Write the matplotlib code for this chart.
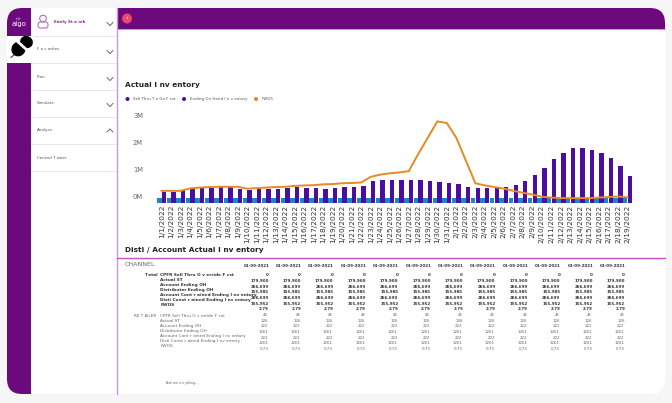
"""
Actual Inventory dashboard screenshot: side menu, chart and table.
"""

import matplotlib
matplotlib.use("Agg")
import matplotlib.pyplot as plt
from matplotlib.patches import FancyBboxPatch, Rectangle, Circle, Ellipse
from matplotlib.transforms import ScaledTranslation

# Data
dates = [f"1/{d}/2022" for d in range(1, 32)] + [f"2/{d}/2022" for d in range(1, 20)]
sell_thru = [0.17] * 50
ending_on_hand = [
    0.40, 0.40, 0.47, 0.50, 0.53, 0.56, 0.57, 0.57, 0.52, 0.48,
    0.52, 0.49, 0.49, 0.54, 0.59, 0.54, 0.54, 0.49, 0.54, 0.57,
    0.57, 0.62, 0.81, 0.83, 0.84, 0.84, 0.84, 0.83, 0.80, 0.77,
    0.73, 0.68, 0.59, 0.54, 0.53, 0.53, 0.58, 0.67, 0.79, 1.01,
    1.28, 1.60, 1.85, 2.01, 2.01, 1.96, 1.83, 1.64, 1.35, 0.98,
]
fwos = [
    0.44, 0.44, 0.44, 0.53, 0.56, 0.58, 0.59, 0.59, 0.59, 0.52,
    0.54, 0.56, 0.58, 0.59, 0.62, 0.64, 0.65, 0.68, 0.69, 0.72,
    0.73, 0.75, 0.96, 1.04, 1.09, 1.12, 1.17, 1.81, 2.41, 3.01,
    2.95, 2.40, 1.56, 0.72, 0.64, 0.58, 0.52, 0.44, 0.37, 0.30,
    0.22, 0.19, 0.17, 0.17, 0.17, 0.17, 0.19, 0.21, 0.23, 0.20,
]
y_ticks = [0, 1, 2, 3]
y_tick_labels = ["0M", "1M", "2M", "3M"]
legend_labels = ["Sell Thru T o Go F cst", "Ending On Hand I n v entory", "FWOS"]

menu_items = ["F a v orites", "Plan", "Simulate", "Analyze", "Central T ower"]

n_columns = 12
column_date = "01-09-2021"
row_labels = [
    "CPFR Sell Thru O v erride F cst",
    "Actual ST",
    "Account Ending OH",
    "Distributor Ending OH",
    "Account Cont r ained Ending I nv entory",
    "Disti Const r ained Ending I nv entory",
    "FWOS",
]
total_values = ["0", "179,900", "266,699", "155,985", "266,699", "155,952", "2.79"]
retailer_values = ["45", "126", "222", "1261", "222", "1261", "0.73"]

PURPLE = "#6c0a7d"
BAR_PURPLE = "#4c0e9e"
BAR_BLUE = "#1c86cc"
ORANGE = "#e48a26"
LILAC = "#c59ad4"
MAGENTA = "#c850c0"

W, H = 672, 403
fig = plt.figure(figsize=(W / 100, H / 100), dpi=100, facecolor="#f6f6f6")

# Background layer works in screen pixels
bg = fig.add_axes([0, 0, 1, 1])
bg.set_xlim(0, W)
bg.set_ylim(H, 0)
bg.axis("off")

card = FancyBboxPatch((7, 8), 658, 386, boxstyle="round,pad=0,rounding_size=15",
                      fc="white", ec="none", zorder=1)
bg.add_patch(card)

sidebar = Rectangle((7, 8), 24, 386, fc=PURPLE, ec="none", zorder=2)
bg.add_patch(sidebar)
sidebar.set_clip_path(card)
topbar = Rectangle((117, 8), 548, 21, fc=PURPLE, ec="none", zorder=2)
bg.add_patch(topbar)
topbar.set_clip_path(card)

bg.plot([117, 117], [8, 394], color=LILAC, lw=1.0, zorder=3)
bg.plot([117, 665], [29.3, 29.3], color=LILAC, lw=0.7, zorder=3)
bg.plot([117, 665], [258, 258], color=MAGENTA, lw=1.0, zorder=3)
bg.add_patch(Circle((127, 18.5), 5, fc="#e5476f", ec="none", zorder=4))
bg.text(127, 18.5, "‹", color="white", fontsize=5, ha="center", va="center", zorder=5)

# Logo
bg.text(19, 24, "algo", color="white", fontsize=5.0, ha="center", va="center", zorder=4)
bg.text(19, 18.5, "·ı|ı·", color="white", fontsize=3, ha="center", va="center", zorder=4)
bg.add_patch(Rectangle((7, 36), 24, 27, fc="white", ec="none", zorder=3))
bg.plot([11, 16], [57.5, 53], color="#222222", lw=0.7, zorder=4)
bg.add_patch(Ellipse((18.5, 49), 14, 15, angle=30, fc="black", ec="none", zorder=4))
bg.add_patch(Ellipse((26.5, 42), 13, 12, angle=30, fc="black", ec="none", zorder=4))
bg.plot([17.5, 27.5], [41.5, 50.5], color="white", lw=2.0, zorder=5)

# Menu
for y in [36, 63, 90, 117, 144, 171]:
    bg.plot([31, 117], [y, y], color="#e8e8e8", lw=0.7, zorder=2)
for label, y in zip(menu_items, [49, 76.5, 103.5, 130.5, 158]):
    bg.text(37, y, label, fontsize=2.9, color="#555555", ha="left", va="center", zorder=4)


def chevron(x, y, up=False):
    d = -1.6 if up else 1.6
    bg.plot([x - 3, x, x + 3], [y - d, y + d, y - d], color="#555555", lw=0.6, zorder=4)


for y in [24, 52, 79, 105]:
    chevron(110, y)
chevron(110, 130.5, up=True)

bg.add_patch(Circle((43, 18.5), 3.3, fc="white", ec="#a85db5", lw=0.7, zorder=4))
bg.add_patch(FancyBboxPatch((38, 22), 10, 6, boxstyle="round,pad=0,rounding_size=2.5",
                            fc="white", ec="#a85db5", lw=0.7, zorder=4))
bg.text(54, 22.3, "Emily St a nik", fontsize=2.9, fontweight="bold", color="#8a2a9a",
        ha="left", va="center", zorder=4)

# Titles and legend
bg.text(125, 85, "Actual I nv entory", fontsize=5.3, fontweight="bold", color="#222222",
        ha="left", va="center", zorder=4)
bg.text(125, 249.7, "Disti / Account Actual I nv entory", fontsize=5.3, fontweight="bold",
        color="#222222", ha="left", va="center", zorder=4)
for x, label, color in zip([127.5, 184, 256], legend_labels, [BAR_PURPLE, BAR_PURPLE, ORANGE]):
    bg.add_patch(Circle((x, 99), 2, fc=color, ec="none", zorder=4))
    bg.text(x + 5.5, 99, label, fontsize=2.9, color="#555555", ha="left", va="center", zorder=4)

# Table
bg.text(125, 265, "CHANNEL", fontsize=4.6, color="#666666", ha="left", va="center", zorder=4)
bg.text(157.5, 275.3, "T otal", fontsize=3.1, fontweight="bold", color="#333333",
        ha="right", va="center", zorder=4)
bg.text(156, 316.3, "RE T AILER", fontsize=3.0, color="#666666",
        ha="right", va="center", zorder=4)
for i in range(n_columns):
    cx = 256.3 + 32.4 * i
    bg.text(cx, 265.7, column_date, fontsize=2.9, fontweight="bold", color="#333333",
            ha="center", va="center", zorder=4)
for r, label in enumerate(row_labels):
    bg.text(160.5, 275.3 + 5 * r, label, fontsize=3.1, fontweight="bold", color="#333333",
            ha="left", va="center", zorder=4)
    bg.text(160.5, 316.3 + 5 * r, label, fontsize=3.05, color="#666666",
            ha="left", va="center", zorder=4)
    for i in range(n_columns):
        right = 268.7 + 32.4 * i
        bg.text(right, 275.3 + 5.67 * r, total_values[r], fontsize=2.9, fontweight="bold",
                color="#333333", ha="right", va="center", zorder=4)
        bg.text(right - 0.5, 315 + 5.67 * r, retailer_values[r], fontsize=2.9,
                color="#666666", ha="right", va="center", zorder=4)
bg.text(166, 383, "Ask me a n ything...", fontsize=2.3, color="#666666",
        ha="left", va="center", zorder=4)

# Chart
left, right, top, bottom = 140, 640, 105, 202.7
ax = fig.add_axes([left / W, 1 - bottom / H, (right - left) / W, (bottom - top) / H])
ax.patch.set_alpha(0)
px_per_day = 9.505
ax.set_xlim((left - 161.7) / px_per_day, (right - 161.7) / px_per_day)
ax.set_ylim(0, (bottom - top) / 27)

positions = list(range(len(dates)))
ax.bar([p - 0.24 for p in positions], sell_thru, width=0.47, color=BAR_BLUE, zorder=2)
ax.bar([p + 0.25 for p in positions], ending_on_hand, width=0.47, color=BAR_PURPLE, zorder=2)
ax.plot(positions, fwos, color=ORANGE, lw=1.4, zorder=3, solid_joinstyle="miter")

for side in ["top", "right", "left", "bottom"]:
    ax.spines[side].set_visible(False)
ax.set_xticks(positions)
ax.set_xticklabels(dates, rotation=90, fontsize=5.3, color="#333333")
ax.set_yticks(y_ticks)
ax.set_yticklabels(y_tick_labels, fontsize=4.9, color="#666666")
ax.tick_params(axis="both", length=0)
ax.tick_params(axis="x", pad=1.5)
ax.tick_params(axis="y", pad=0)

# y labels sit above their gridline
shift = ScaledTranslation(3 / 100, 6 / 100, fig.dpi_scale_trans)
for lab in ax.get_yticklabels():
    lab.set_transform(lab.get_transform() + shift)

fig.savefig("out.png", dpi=100, facecolor=fig.get_facecolor())
